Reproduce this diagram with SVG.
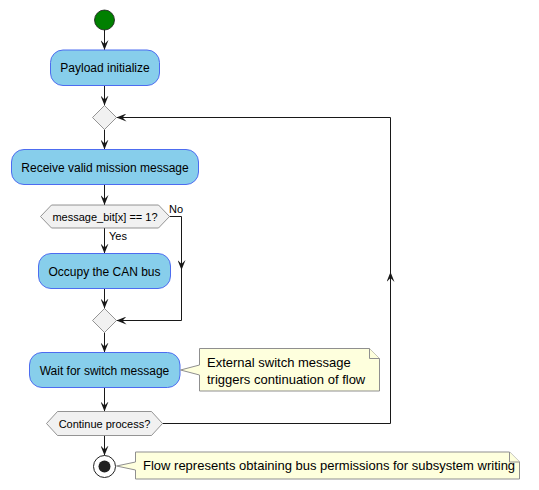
<svg xmlns="http://www.w3.org/2000/svg" width="539" height="490" viewBox="0 0 539 490">
<defs>
<style>
text{font-family:"Liberation Sans",Arial,sans-serif;fill:#000}
.act{fill:#87CEEB;stroke:#4D6CF0;stroke-width:1}
.dia{fill:#F1F1F1;stroke:#7a7a7a;stroke-width:0.8}
.note{fill:#FEFFDD;stroke:#8f8f8f;stroke-width:1}
.ln{fill:none;stroke:#181818;stroke-width:1}
.t12{font-size:12px}
.t11{font-size:11px}
.t13{font-size:13px}
</style>
<marker id="ah" viewBox="0 0 10 8" refX="10" refY="4" markerWidth="10" markerHeight="8" markerUnits="userSpaceOnUse" orient="auto">
<path d="M0,0 L10,4 L0,8 L4,4 Z" fill="#181818"/>
</marker>
</defs>

<g id="connectors">
<line class="ln" x1="104.5" y1="30" x2="104.5" y2="50" marker-end="url(#ah)"/>
<line class="ln" x1="104.5" y1="85.5" x2="104.5" y2="105.5" marker-end="url(#ah)"/>
<line class="ln" x1="104.5" y1="129.5" x2="104.5" y2="149.5" marker-end="url(#ah)"/>
<line class="ln" x1="104.5" y1="184.5" x2="104.5" y2="205" marker-end="url(#ah)"/>
<line class="ln" x1="104.5" y1="228" x2="104.5" y2="253.5" marker-end="url(#ah)"/>
<line class="ln" x1="104.5" y1="288.5" x2="104.5" y2="308.5" marker-end="url(#ah)"/>
<path class="ln" d="M169.5,216.5 H181.5 V270" marker-end="url(#ah)"/>
<path class="ln" d="M181.5,268 V320.5 H116.5" marker-end="url(#ah)"/>
<line class="ln" x1="104.5" y1="332.5" x2="104.5" y2="352.5" marker-end="url(#ah)"/>
<line class="ln" x1="104.5" y1="387.5" x2="104.5" y2="411.5" marker-end="url(#ah)"/>
<line class="ln" x1="104.5" y1="435.5" x2="104.5" y2="455.5" marker-end="url(#ah)"/>
<path class="ln" d="M162.5,423.5 H390.5 V272" marker-end="url(#ah)"/>
<path class="ln" d="M390.5,274 V117.5 H116.5" marker-end="url(#ah)"/>
<text class="t11" x="169" y="213">No</text>
<text class="t11" x="109" y="240">Yes</text>
</g>

<g id="start">
<circle cx="104.5" cy="20" r="10" fill="#008000" stroke="#1a1a1a" stroke-width="0.8"/>
</g>

<g id="payload">
<rect class="act" x="50.5" y="50" width="109" height="35.5" rx="12.5"/>
<text class="t12" x="105" y="72" text-anchor="middle">Payload initialize</text>
</g>

<g id="merge1">
<polygon class="dia" points="104.5,105.5 116.5,117.5 104.5,129.5 92.5,117.5"/>
</g>

<g id="receive">
<rect class="act" x="11.5" y="149.5" width="187" height="35" rx="12.5"/>
<text class="t12" x="105" y="171.5" text-anchor="middle">Receive valid mission message</text>
</g>

<g id="decision1">
<polygon class="dia" points="40.5,216.5 51.5,205 158.5,205 169.5,216.5 158.5,228 51.5,228"/>
<text class="t11" x="105" y="220.5" text-anchor="middle">message_bit[x] == 1?</text>
</g>

<g id="occupy">
<rect class="act" x="38.5" y="253.5" width="132" height="35" rx="12.5"/>
<text class="t12" x="104.5" y="275.5" text-anchor="middle">Occupy the CAN bus</text>
</g>

<g id="merge2">
<polygon class="dia" points="104.5,308.5 116.5,320.5 104.5,332.5 92.5,320.5"/>
</g>

<g id="wait">
<rect class="act" x="29.5" y="352.5" width="150.5" height="35" rx="12.5"/>
<text class="t12" x="104.5" y="374.5" text-anchor="middle">Wait for switch message</text>
</g>

<g id="note1">
<path class="note" d="M199.5,348.5 H369.5 L379.5,358.5 V391 H199.5 V375 L180.5,370 L199.5,365 Z"/>
<path class="note" d="M369.5,348.5 V358.5 H379.5" fill="none"/>
<text class="t13" x="207" y="367">External switch message</text>
<text class="t13" x="207" y="383.5">triggers continuation of flow</text>
</g>

<g id="decision2">
<polygon class="dia" points="46.5,423.5 57.5,411.5 151.5,411.5 162.5,423.5 151.5,435.5 57.5,435.5"/>
<text class="t11" x="104.5" y="427.5" text-anchor="middle">Continue process?</text>
</g>

<g id="end">
<circle cx="104.5" cy="466.5" r="11" fill="#fff" stroke="#222" stroke-width="1"/>
<circle cx="104.5" cy="466.5" r="6" fill="#222"/>
</g>

<g id="note2">
<path class="note" d="M135.5,452 H509.5 L519.5,462 V479 H135.5 V470 L116.5,466 L135.5,462 Z"/>
<path class="note" d="M509.5,452 V462 H519.5" fill="none"/>
<text class="t13" x="143" y="470">Flow represents obtaining bus permissions for subsystem writing</text>
</g>
</svg>
